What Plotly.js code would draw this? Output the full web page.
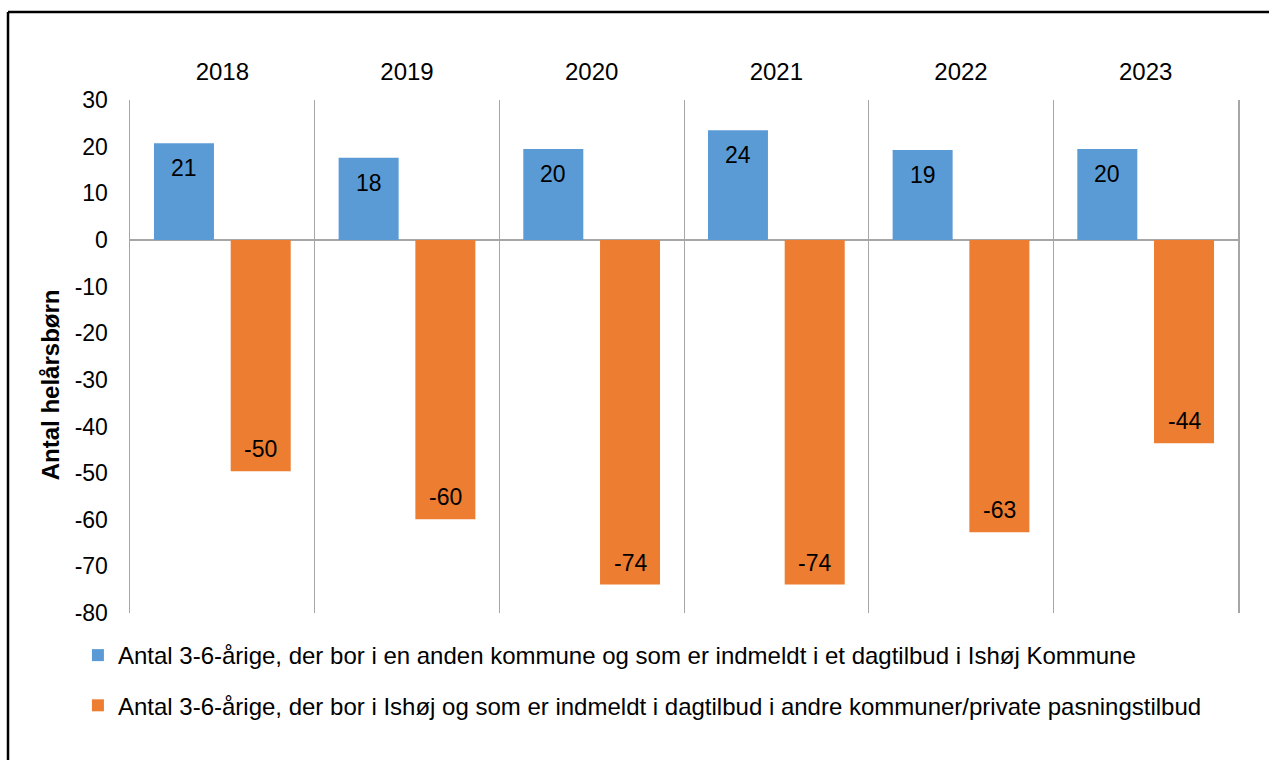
<!DOCTYPE html>
<html>
<head>
<meta charset="utf-8">
<script src="https://cdn.plot.ly/plotly-3.0.1.min.js"></script>
<style>
html,body{margin:0;padding:0;background:#fff;}
#chart{width:1269px;height:760px;}
</style>
</head>
<body>
<div id="chart"></div>
<script>
const years = ['2018','2019','2020','2021','2022','2023'];
const inbound = [20.7, 17.6, 19.5, 23.5, 19.3, 19.5];
const outbound = [-49.6, -59.9, -73.9, -73.9, -62.7, -43.6];
const nameInbound = 'Antal 3-6-årige, der bor i en anden kommune og som er indmeldt i et dagtilbud i Ishøj Kommune';
const nameOutbound = 'Antal 3-6-årige, der bor i Ishøj og som er indmeldt i dagtilbud i andre kommuner/private pasningstilbud';
const yTicks = [30,20,10,0,-10,-20,-30,-40,-50,-60,-70,-80];
const yTitle = 'Antal helårsbørn';

const FONT = 'Liberation Sans, Arial, sans-serif';
const FS = 24;
const BLUE = '#5B9BD5', ORANGE = '#ED7D31', GRID = '#A6A6A6';

const traces = [
  {type:'bar', name:nameInbound, x:years, y:inbound, marker:{color:BLUE}, legendgroup:'a', hoverinfo:'y'},
  {type:'bar', name:nameOutbound, x:years, y:outbound, marker:{color:ORANGE}, legendgroup:'b', hoverinfo:'y'}
];

// category axis: annotation x is the category index
const annotations = [];
years.forEach((yr,i)=>{
  annotations.push({x:i, y:inbound[i], xref:'x', yref:'y', text:String(Math.round(inbound[i])), showarrow:false, xshift:-38.4, yshift:-25, font:{family:FONT,size:FS-1,color:'#000'}});
  annotations.push({x:i, y:outbound[i], xref:'x', yref:'y', text:String(Math.round(outbound[i])), showarrow:false, xshift:38.4, yshift:22, font:{family:FONT,size:FS-1,color:'#000'}});
});
annotations.push({xref:'paper', yref:'paper', x:-0.0722, y:0.444, xanchor:'center', yanchor:'middle', textangle:-90, showarrow:false, text:'<b>'+yTitle+'</b>', font:{family:FONT,size:FS,color:'#000'}});

const layout = {
  width:1269, height:760,
  margin:{l:130, r:31, t:100, b:147},
  paper_bgcolor:'#fff', plot_bgcolor:'#fff',
  font:{family:FONT, size:FS, color:'#000'},
  barmode:'group', bargap:0.169, bargroupgap:0.218,
  showlegend:true,
  legend:{orientation:'v', x:-0.047, xanchor:'left', y:-0.039, yanchor:'top', traceorder:'grouped', tracegroupgap:16, font:{family:FONT,size:FS,color:'#000'}, bgcolor:'rgba(0,0,0,0)'},
  xaxis:{type:'category', side:'top', range:[-0.5,5.5], autorange:false, showgrid:true, gridcolor:GRID, gridwidth:1, tickson:'boundaries', ticks:'', showline:false, zeroline:false, ticklabelstandoff:14, tickfont:{family:FONT,size:FS,color:'#000'}, fixedrange:true},
  yaxis:{range:[-80,30], autorange:false, tickvals:yTicks, ticktext:yTicks.map(String), showgrid:false, zeroline:true, zerolinecolor:GRID, zerolinewidth:1.5, showline:true, mirror:true, linecolor:GRID, linewidth:1.5, ticks:'', tickfont:{family:FONT,size:FS-1,color:'#000'}, ticklabelstandoff:16, fixedrange:true},
  annotations: annotations,
  shapes:[
    {type:'line', xref:'paper', yref:'paper', x0:-0.1101, x1:-0.1101, y0:1.1715, y1:-0.6, line:{color:'#000', width:2.5}},
    {type:'line', xref:'paper', yref:'paper', x0:-0.1101, x1:1.1, y0:1.1715, y1:1.1715, line:{color:'#000', width:2.5}}
  ]
};

Plotly.newPlot('chart', traces, layout, {displayModeBar:false, staticPlot:true});
</script>
</body>
</html>
